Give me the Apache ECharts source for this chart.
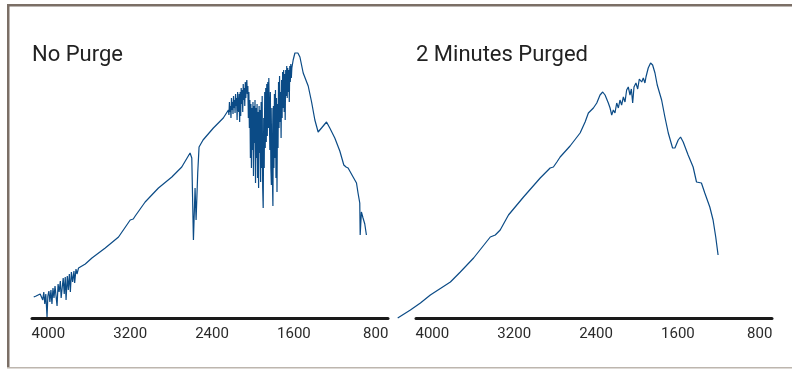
<!DOCTYPE html>
<html>
<head>
<meta charset="utf-8">
<script src="https://cdn.jsdelivr.net/npm/echarts@6/dist/echarts.min.js"></script>
<style>
  html, body { margin: 0; padding: 0; background: #fff; }
  #chart { width: 792px; height: 369px; }
</style>
</head>
<body>
<div id="chart"></div>
<script>
// Panel titles and axis ticks
var panelTitles = ['No Purge', '2 Minutes Purged'];
var tickValues = [4000, 3200, 2400, 1600, 800];

// No purge spectrum (wavenumber, relative intensity)
var noPurgeWn = [
  4143, 4120, 4100, 4080, 4065, 4055, 4045, 4035, 4025, 4013, 4005, 3995, 3985, 3975,
  3965, 3955, 3945, 3935, 3925, 3915, 3905, 3895, 3883, 3875, 3865, 3855, 3845, 3835,
  3827, 3815, 3805, 3795, 3785, 3775, 3763, 3750, 3743, 3730, 3720, 3705, 3688, 3639,
  3574, 3444, 3314, 3200, 3170, 3151, 3054, 2924, 2793, 2696, 2615, 2598, 2582, 2566,
  2556, 2540, 2527, 2488, 2387, 2290,
  2240, 2235, 2230, 2225, 2220, 2215, 2210, 2205, 2200, 2195, 2190, 2185, 2180, 2175,
  2170, 2165, 2160, 2155, 2150, 2145, 2140, 2135, 2130, 2125, 2120, 2115, 2110, 2105,
  2100, 2095, 2090, 2085, 2080, 2075, 2070, 2065, 2060, 2055, 2050, 2045, 2040, 2035,
  2030, 2025, 2020, 2015, 2010, 2005, 2000, 1995, 1990, 1985, 1980, 1975, 1970, 1965,
  1960, 1955, 1950, 1945, 1940, 1935, 1930, 1925, 1920, 1915, 1910, 1905, 1900, 1895,
  1890, 1885, 1880, 1875, 1870, 1865, 1860, 1855, 1850, 1845, 1840, 1835, 1830, 1825,
  1820, 1815, 1810, 1805, 1800, 1795, 1790, 1785, 1780, 1775, 1770, 1765, 1760, 1755,
  1750, 1745, 1740, 1735, 1730, 1725, 1720, 1715, 1710, 1705, 1700, 1695, 1690, 1685,
  1680, 1675, 1670, 1665, 1660, 1655, 1650, 1645, 1640, 1635, 1630, 1625, 1620,
  1607, 1590, 1574, 1561, 1541,
  1509, 1460, 1427, 1395, 1363, 1346, 1330, 1281, 1249, 1200, 1151, 1112, 1090, 1070,
  1021, 988, 973, 956, 952, 940, 924, 907, 891
];
var noPurgeVal = [
  21, 22, 23, 24, 22, 18, 26, 14, 24, 1, 22, 27, 16, 28,
  14, 30, 20, 32, 22, 12, 34, 26, 37, 20, 30, 40, 24, 41,
  18, 42, 28, 44, 26, 46, 36, 47, 35, 49, 44, 50, 51, 54,
  60, 70, 81, 98, 99, 102, 116, 130, 141, 151, 165, 160, 78, 130,
  98, 145, 171, 178, 190, 200,
  208, 203, 216, 206, 212, 200, 220, 208, 216, 204, 222, 210, 218, 205,
  224, 212, 220, 198, 226, 210, 206, 224, 196, 226, 202, 230, 214, 228,
  206, 234, 218, 230, 212, 236, 220, 232, 238, 224, 232, 200, 226, 190,
  218, 160, 214, 150, 210, 168, 216, 142, 212, 175, 218, 135, 210, 160,
  214, 140, 206, 130, 212, 165, 208, 136, 216, 150, 222, 130, 110, 200,
  150, 226, 170, 230, 176, 234, 182, 236, 190, 240, 204, 168, 226, 150,
  133, 210, 140, 112, 212, 150, 224, 160, 228, 140, 220, 126, 214, 170,
  236, 190, 242, 196, 226, 180, 238, 200, 246, 210, 248, 206, 244, 198,
  248, 222, 252, 220, 250, 226, 248, 216, 252, 236, 254, 240, 250,
  258, 265, 266, 265, 261,
  245, 232, 216, 198, 186, 187, 190, 196, 190, 180, 167, 153, 151, 150,
  141, 135, 125, 115, 83, 106, 100, 94, 83
];

// 2 minutes purged spectrum
var purgedWn = [
  4339, 4215, 4117, 4020, 3824, 3727, 3597, 3434, 3385, 3337, 3256, 3109, 2946, 2849,
  2817, 2783, 2751, 2654, 2556, 2507, 2475, 2426, 2393, 2361, 2335, 2312, 2280, 2263,
  2247, 2231, 2215, 2198, 2182, 2166, 2150, 2133, 2117, 2101, 2085, 2068, 2055, 2042,
  2029, 2010, 1993, 1977, 1954, 1938, 1922, 1912, 1890, 1867, 1847, 1824, 1802, 1759,
  1727, 1694, 1652, 1629, 1597, 1574, 1548, 1500, 1451, 1418, 1370, 1337, 1288, 1256,
  1230, 1207
];
var purgedVal = [
  0, 8, 15, 23, 36, 46, 60, 81, 83, 88, 103, 121, 140, 150,
  151, 156, 161, 172, 185, 196, 205, 210, 215, 223, 226, 223, 215, 210,
  203, 208, 205, 215, 210, 218, 213, 221, 216, 228, 231, 223, 229, 215,
  231, 235, 229, 239, 236, 240, 235, 241, 250, 255, 253, 245, 233, 218,
  201, 185, 170, 170, 178, 181, 176, 163, 151, 136, 135, 125, 111, 98,
  81, 63
];

function pairs(xs, ys) {
  return xs.map(function (x, i) { return [x, ys[i]]; });
}

var chart = echarts.init(document.getElementById('chart'), null, { renderer: 'canvas' });

var lineColor = '#0b4b86';
var panelLefts = [32, 416];

function xAxisFor(i) {
  return {
    type: 'value',
    gridIndex: i,
    inverse: true,
    min: 680,
    max: 4160,
    axisLine: { show: true, onZero: false, lineStyle: { color: '#1a1a1a', width: 3 } },
    axisTick: { show: false },
    splitLine: { show: false },
    axisLabel: {
      customValues: tickValues,
      formatter: function (v) { return String(v); },
      margin: 9,
      color: '#2a2a2a',
      fontFamily: 'Roboto',
      fontSize: 15
    }
  };
}

function yAxisFor(i) {
  return { type: 'value', gridIndex: i, min: 0, max: 300, show: false };
}

chart.setOption({
  animation: false,
  backgroundColor: '#fff',
  title: panelTitles.map(function (t, i) {
    return {
      text: t,
      left: panelLefts[i],
      top: 43,
      padding: 0,
      textStyle: { fontFamily: 'Roboto', fontSize: 22, fontWeight: 'normal', color: '#222', lineHeight: 24 }
    };
  }),
  grid: [
    { left: 32, width: 356, top: 18, height: 300 },
    { left: 416, width: 356, top: 18, height: 300 },
    // same scale as the right panel, wider so the trace can start left of its axis
    { left: 397.6, width: 374.4, top: 18, height: 300 }
  ],
  xAxis: [
    xAxisFor(0),
    xAxisFor(1),
    { type: 'value', gridIndex: 2, inverse: true, min: 680, max: 4340, show: false }
  ],
  yAxis: [yAxisFor(0), yAxisFor(1), yAxisFor(2)],
  series: [
    {
      type: 'line',
      xAxisIndex: 0,
      yAxisIndex: 0,
      data: pairs(noPurgeWn, noPurgeVal),
      showSymbol: false,
      clip: false,
      lineStyle: { color: lineColor, width: 1.2 }
    },
    {
      type: 'line',
      xAxisIndex: 2,
      yAxisIndex: 2,
      data: pairs(purgedWn, purgedVal),
      showSymbol: false,
      clip: false,
      lineStyle: { color: lineColor, width: 1.2 }
    }
  ],
  graphic: [
    { type: 'rect', shape: { x: 7, y: 4, width: 800, height: 2.5 }, style: { fill: '#7b6f66' }, silent: true },
    { type: 'rect', shape: { x: 7, y: 4, width: 2.5, height: 364 }, style: { fill: '#7b6f66' }, silent: true },
    { type: 'rect', shape: { x: 7, y: 367, width: 800, height: 1.5 }, style: { fill: '#bdb6ae' }, silent: true }
  ]
});
</script>
</body>
</html>
